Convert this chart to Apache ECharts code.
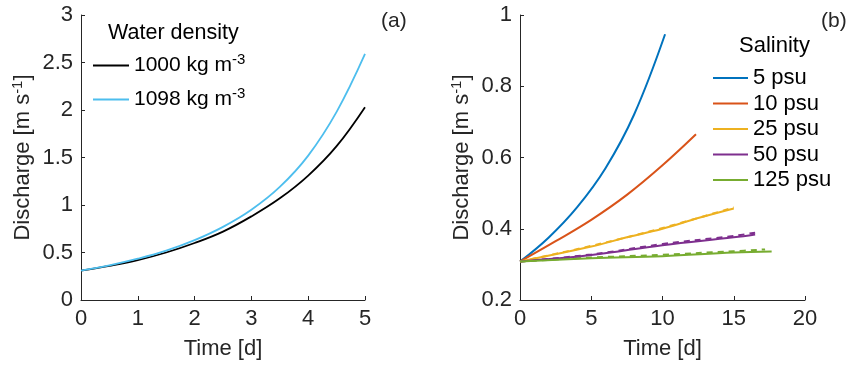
<!DOCTYPE html>
<html>
<head>
<meta charset="utf-8">
<script src="https://cdn.jsdelivr.net/npm/echarts@6/dist/echarts.min.js"></script>
<style>
  html, body { margin: 0; padding: 0; background: #fff; }
  #main { width: 849px; height: 367px; }
</style>
</head>
<body>
<div id="main"></div>
<script>
// panel (a): discharge vs time for two water densities
const timeA = [0, 0.5, 1, 1.5, 2, 2.5, 3, 3.5, 4, 4.5, 5];
const rho1000 = [0.31, 0.36, 0.42, 0.50, 0.60, 0.72, 0.88, 1.07, 1.31, 1.62, 2.03];
const rho1098 = [0.31, 0.365, 0.435, 0.52, 0.63, 0.77, 0.95, 1.19, 1.52, 1.98, 2.59];

// panel (b): discharge vs time for salinities (each curve has its own time span)
const salNames = ['5 psu', '10 psu', '25 psu', '50 psu', '125 psu'];
const salColors = ['#0072BD', '#D95319', '#EDB120', '#7E2F8E', '#77AC30'];
const salTime = [
  [0, 2, 4, 6, 8, 10.18],
  [0, 2.5, 5, 7.5, 10, 12.35],
  [0, 5, 7.5, 10, 12.5, 15],
  [0, 5, 10, 15, 16.5],
  [0, 5, 10, 15, 17.66]
];
const salValue = [
  [0.308, 0.375, 0.46, 0.57, 0.72, 0.946],
  [0.308, 0.365, 0.425, 0.495, 0.578, 0.665],
  [0.308, 0.35, 0.376, 0.40, 0.43, 0.457],
  [0.308, 0.326, 0.354, 0.376, 0.384],
  [0.308, 0.317, 0.323, 0.333, 0.336]
];
// dashed companions (slightly above near the ends)
const dashIdx = [2, 3, 4];
const dashTime = [
  [0, 5, 10, 15],
  [0, 5, 10, 15, 16.5],
  [0, 5, 10, 15, 17.2]
];
const dashValue = [
  [0.308, 0.352, 0.402, 0.46],
  [0.308, 0.328, 0.357, 0.38, 0.389],
  [0.308, 0.319, 0.327, 0.337, 0.342]
];

const FONT = 'Liberation Sans, Arial, sans-serif';
const TXT = '#262626';

function xyAxis(extra) {
  return Object.assign({
    type: 'value',
    axisLine: { show: true, onZero: false, lineStyle: { color: TXT, width: 1 } },
    axisTick: { show: true, inside: true, length: 4, lineStyle: { color: TXT } },
    axisLabel: { color: TXT, fontSize: 22, fontFamily: FONT, margin: 8 },
    splitLine: { show: false },
    nameLocation: 'middle',
    nameTextStyle: { color: TXT, fontSize: 22, fontFamily: FONT }
  }, extra);
}

const yName = '{a|Discharge [m s}{s|-1}{a|]}';
const yNameRich = {
  a: { fontSize: 22, fontFamily: FONT, color: TXT },
  s: { fontSize: 15, fontFamily: FONT, color: TXT, verticalAlign: 'top', padding: [0, 0, 10, 0] }
};

const series = [
  {
    name: '1000 kg m', type: 'line', xAxisIndex: 0, yAxisIndex: 0, smooth: 0.4,
    symbol: 'none', data: timeA.map((t, i) => [t, rho1000[i]]),
    lineStyle: { color: '#000000', width: 1.8 }, itemStyle: { color: '#000000' }
  },
  {
    name: '1098 kg m', type: 'line', xAxisIndex: 0, yAxisIndex: 0, smooth: 0.4,
    symbol: 'none', data: timeA.map((t, i) => [t, rho1098[i]]),
    lineStyle: { color: '#4DBEEE', width: 1.8 }, itemStyle: { color: '#4DBEEE' }
  }
];
dashIdx.forEach((k, j) => {
  series.push({
    name: 'dash' + k, type: 'line', xAxisIndex: 1, yAxisIndex: 1, smooth: 0.4,
    symbol: 'none', data: dashTime[j].map((t, i) => [t, dashValue[j][i]]),
    lineStyle: { color: salColors[k], width: 2, type: [6, 5] }
  });
});
salNames.forEach((n, k) => {
  series.push({
    name: n, type: 'line', xAxisIndex: 1, yAxisIndex: 1, smooth: 0.4,
    symbol: 'none', data: salTime[k].map((t, i) => [t, salValue[k][i]]),
    lineStyle: { color: salColors[k], width: 2 }, itemStyle: { color: salColors[k] }
  });
});

const chart = echarts.init(document.getElementById('main'));
chart.setOption({
  animation: false,
  backgroundColor: '#ffffff',
  title: [
    { text: '(a)', left: 376, top: 6, textStyle: { fontSize: 21, fontWeight: 'normal', color: TXT, fontFamily: FONT } },
    { text: '(b)', left: 816, top: 6, textStyle: { fontSize: 21, fontWeight: 'normal', color: TXT, fontFamily: FONT } },
    { text: 'Water density', left: 103, top: 17, textStyle: { fontSize: 21.5, fontWeight: 'normal', color: '#000', fontFamily: FONT } },
    { text: 'Salinity', left: 734, top: 30, textStyle: { fontSize: 22, fontWeight: 'normal', color: '#000', fontFamily: FONT } }
  ],
  legend: [
    {
      data: ['1000 kg m', '1098 kg m'],
      orient: 'vertical', left: 93, top: 52, padding: 0, itemWidth: 36, itemHeight: 2, itemGap: 10,
      icon: 'rect',
      formatter: n => '{a|' + n + '}{s|-3}',
      textStyle: {
        rich: {
          a: { fontSize: 21, fontFamily: FONT, color: '#000' },
          s: { fontSize: 15, fontFamily: FONT, color: '#000', verticalAlign: 'top', padding: [0, 0, 12, 0] }
        }
      }
    },
    {
      data: salNames,
      orient: 'vertical', left: 713, top: 67, padding: 0, itemWidth: 35, itemHeight: 2, itemGap: 3.5,
      icon: 'rect',
      textStyle: { fontSize: 22, fontFamily: FONT, color: '#000' }
    }
  ],
  grid: [
    { left: 81, right: 484, top: 15, bottom: 67, outerBoundsMode: 'none' },
    { left: 520, right: 44, top: 15, bottom: 67, outerBoundsMode: 'none' }
  ],
  xAxis: [
    xyAxis({ gridIndex: 0, min: 0, max: 5, interval: 1, name: 'Time [d]', nameGap: 38 }),
    xyAxis({ gridIndex: 1, min: 0, max: 20, interval: 5, name: 'Time [d]', nameGap: 38 })
  ],
  yAxis: [
    xyAxis({ gridIndex: 0, min: 0, max: 3, interval: 0.5, name: yName, nameGap: 46,
      nameTextStyle: { rich: yNameRich } }),
    xyAxis({ gridIndex: 1, min: 0.2, max: 1, interval: 0.2, name: yName, nameGap: 46,
      nameTextStyle: { rich: yNameRich } })
  ],
  series: series
});
</script>
</body>
</html>
